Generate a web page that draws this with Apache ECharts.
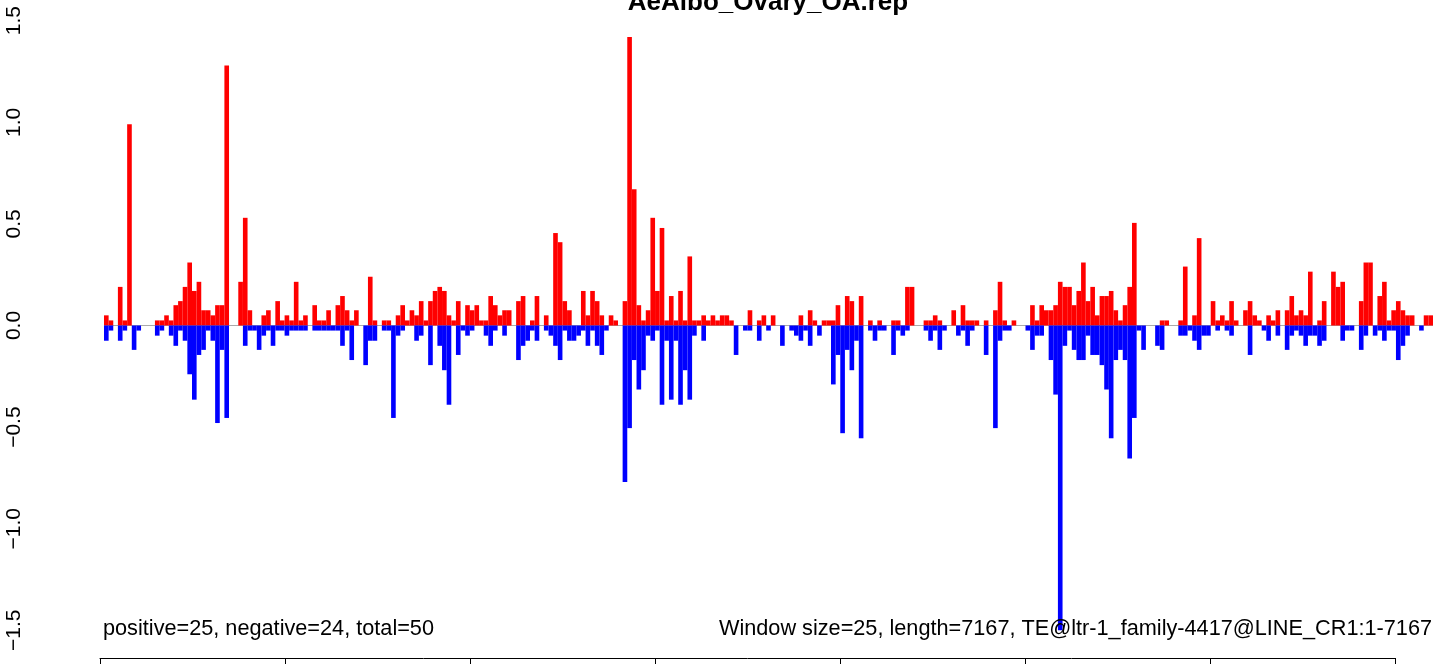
<!DOCTYPE html>
<html>
<head>
<meta charset="utf-8">
<script src="https://cdn.jsdelivr.net/npm/echarts@6/dist/echarts.min.js"></script>
<style>
html, body { margin: 0; padding: 0; background: #fff; }
#chart { width: 1441px; height: 664px; }
</style>
</head>
<body>
<div id="chart"></div>
<script>
// repeat profile, one bar pair per 25 bp window
const windowSize = 25;
const seqLength = 7167;
const chartTitle = 'AeAlbo_Ovary_OA.rep';
const statsText = 'positive=25, negative=24, total=50';
const infoText = 'Window size=25, length=7167, TE@ltr-1_family-4417@LINE_CR1:1-7167';

const positiveValues = [
  0.05, 0.025, 0, 0.19, 0.025, 0.99, 0, 0, 0, 0,
  0, 0.025, 0.025, 0.05, 0.025, 0.1, 0.12, 0.19, 0.31, 0.17,
  0.215, 0.075, 0.075, 0.05, 0.1, 0.1, 1.28, 0, 0, 0.215,
  0.53, 0.075, 0, 0, 0.05, 0.075, 0, 0.12, 0.025, 0.05,
  0.025, 0.215, 0.025, 0.05, 0, 0.1, 0.025, 0.025, 0.075, 0,
  0.1, 0.145, 0.075, 0.025, 0.075, 0, 0, 0.24, 0.025, 0,
  0.025, 0.025, 0, 0.05, 0.1, 0.025, 0.075, 0.05, 0.12, 0.025,
  0.12, 0.17, 0.19, 0.17, 0.05, 0.025, 0.12, 0, 0.1, 0.075,
  0.1, 0.025, 0.025, 0.145, 0.1, 0.05, 0.075, 0.075, 0, 0.12,
  0.145, 0, 0.025, 0.145, 0, 0.05, 0, 0.455, 0.41, 0.12,
  0.075, 0, 0, 0.17, 0.05, 0.17, 0.12, 0.05, 0, 0.05,
  0.025, 0, 0.12, 1.42, 0.67, 0.1, 0.025, 0.075, 0.53, 0.17,
  0.48, 0.025, 0.145, 0.025, 0.17, 0.025, 0.34, 0.025, 0.025, 0.05,
  0.025, 0.05, 0.025, 0.05, 0.05, 0.025, 0, 0, 0, 0.075,
  0, 0.025, 0.05, 0, 0.05, 0, 0, 0, 0, 0,
  0.05, 0, 0.075, 0.025, 0, 0.025, 0.025, 0.025, 0.1, 0,
  0.145, 0.12, 0, 0.145, 0, 0.025, 0, 0.025, 0, 0,
  0.025, 0.025, 0, 0.19, 0.19, 0, 0, 0.025, 0.025, 0.05,
  0.025, 0, 0, 0.075, 0, 0.1, 0.025, 0.025, 0.025, 0,
  0.025, 0, 0.075, 0.215, 0.025, 0, 0.025, 0, 0, 0,
  0.1, 0.025, 0.1, 0.075, 0.075, 0.1, 0.215, 0.19, 0.19, 0.1,
  0.17, 0.31, 0.12, 0.19, 0.05, 0.145, 0.145, 0.17, 0.075, 0.025,
  0.1, 0.19, 0.505, 0, 0, 0, 0, 0, 0.025, 0.025,
  0, 0, 0.025, 0.29, 0, 0.05, 0.43, 0, 0, 0.12,
  0.025, 0.05, 0.025, 0.12, 0.025, 0, 0.075, 0.12, 0.05, 0.025,
  0, 0.05, 0.025, 0.075, 0, 0.075, 0.145, 0.05, 0.075, 0.05,
  0.265, 0, 0.025, 0.12, 0, 0.265, 0.19, 0.215, 0, 0,
  0, 0.12, 0.31, 0.31, 0, 0.145, 0.215, 0.025, 0.075, 0.12,
  0.075, 0.05, 0.05, 0, 0, 0.05, 0.05
];

const negativeValues = [
  -0.075, -0.025, 0, -0.075, -0.025, 0, -0.12, -0.025, 0, 0,
  0, -0.05, -0.025, 0, -0.05, -0.1, -0.025, -0.075, -0.24, -0.365,
  -0.145, -0.12, -0.025, -0.075, -0.48, -0.12, -0.455, 0, 0, 0,
  -0.1, -0.025, -0.025, -0.12, -0.05, -0.025, -0.1, -0.025, -0.025, -0.05,
  -0.025, -0.025, -0.025, -0.025, 0, -0.025, -0.025, -0.025, -0.025, -0.025,
  -0.025, -0.1, -0.025, -0.17, 0, 0, -0.195, -0.075, -0.075, 0,
  -0.025, -0.025, -0.455, -0.05, -0.025, 0, 0, -0.075, -0.05, 0,
  -0.195, 0, -0.1, -0.22, -0.39, 0, -0.145, -0.025, -0.05, -0.025,
  0, 0, -0.05, -0.1, -0.025, 0, -0.05, 0, 0, -0.17,
  -0.1, -0.075, -0.025, -0.075, 0, -0.025, -0.05, -0.1, -0.17, -0.025,
  -0.075, -0.075, -0.05, -0.025, -0.1, -0.025, -0.1, -0.145, -0.025, 0,
  0, 0, -0.77, -0.505, -0.17, -0.315, -0.22, -0.05, -0.075, -0.025,
  -0.39, -0.075, -0.365, -0.075, -0.39, -0.22, -0.365, -0.05, 0, -0.075,
  0, 0, 0, 0, 0, 0, -0.145, 0, -0.025, -0.025,
  0, -0.075, 0, -0.025, 0, 0, -0.1, 0, -0.025, -0.05,
  -0.075, -0.025, -0.1, 0, -0.05, 0, 0, -0.29, -0.145, -0.53,
  -0.12, -0.22, -0.075, -0.555, 0, -0.025, -0.075, -0.025, -0.025, 0,
  -0.145, -0.025, -0.05, -0.025, 0, 0, 0, -0.025, -0.075, -0.025,
  -0.12, -0.025, 0, 0, -0.05, -0.025, -0.1, -0.025, 0, 0,
  -0.145, 0, -0.505, -0.075, -0.025, -0.025, 0, 0, 0, -0.025,
  -0.12, -0.05, -0.05, 0, -0.17, -0.34, -1.51, -0.1, -0.025, -0.12,
  -0.17, -0.17, -0.05, -0.145, -0.145, -0.195, -0.315, -0.555, -0.17, -0.12,
  -0.17, -0.655, -0.455, -0.025, -0.12, 0, 0, -0.1, -0.12, 0,
  0, 0, -0.05, -0.05, -0.025, -0.075, -0.12, -0.05, -0.05, 0,
  -0.025, 0, -0.025, -0.05, 0, 0, 0, -0.145, 0, 0,
  -0.025, -0.075, 0, -0.05, 0, -0.12, -0.05, -0.025, -0.05, -0.1,
  -0.05, -0.05, -0.1, -0.075, 0, 0, 0, -0.075, -0.025, -0.025,
  0, -0.12, -0.05, 0, -0.05, -0.025, -0.075, -0.025, -0.025, -0.17,
  -0.1, -0.05, 0, 0, -0.025, 0, 0
];

const xTicks = [0, 1000, 2000, 3000, 4000, 5000, 6000, 7000];
const yTicks = [-1.5, -1.0, -0.5, 0.0, 0.5, 1.0, 1.5];

// window start positions along the element
const windowStarts = positiveValues.map((v, i) => i * windowSize + 1);

let chart = echarts.init(document.getElementById('chart'));
let fontFamily = '"Liberation Sans", Arial, Helvetica, sans-serif';

let option = {
    animation: false,
    backgroundColor: '#ffffff',
    title: [
        {
            text: chartTitle,
            left: 768,
            top: -10,
            padding: 0,
            textAlign: 'center',
            textStyle: { fontFamily: fontFamily, fontSize: 26, fontWeight: 'bold', color: '#000' }
        },
        {
            text: statsText,
            left: 103,
            top: 618,
            padding: 0,
            textStyle: { fontFamily: fontFamily, fontSize: 21.7, fontWeight: 'normal', color: '#000' }
        },
        {
            text: infoText,
            right: 9,
            top: 618,
            padding: 0,
            textStyle: { fontFamily: fontFamily, fontSize: 21.7, fontWeight: 'normal', color: '#000' }
        }
    ],
    grid: [
        { left: 104, width: 1329, top: 20.7, height: 609.6 },
        { left: 100, width: 1295, top: 600, height: 58 }
    ],
    xAxis: [
        {
            type: 'category',
            gridIndex: 0,
            data: windowStarts,
            boundaryGap: true,
            show: false
        },
        {
            type: 'value',
            gridIndex: 1,
            min: xTicks[0],
            max: xTicks[xTicks.length - 1],
            interval: 1000,
            axisLine: { show: true, lineStyle: { color: '#000', width: 1 } },
            axisTick: { show: true, length: 12, lineStyle: { color: '#000' } },
            axisLabel: { show: false },
            splitLine: { show: false }
        }
    ],
    yAxis: [
        {
            type: 'value',
            gridIndex: 0,
            min: yTicks[0],
            max: yTicks[yTicks.length - 1],
            interval: 0.5,
            offset: 52,
            axisLine: { show: false },
            axisTick: { show: false },
            axisLabel: {
                rotate: 90,
                margin: 27,
                color: '#000',
                fontFamily: fontFamily,
                fontSize: 21,
                formatter: function (v) {
                    return v.toFixed(1).replace('-', '\u2212');
                }
            },
            splitLine: {
                show: true,
                lineStyle: {
                    color: yTicks.map(t => (t === 0 ? '#aaaaaa' : 'rgba(0,0,0,0)')),
                    width: 1
                }
            }
        },
        {
            type: 'value',
            gridIndex: 1,
            show: false
        }
    ],
    series: [
        {
            name: 'positive',
            type: 'bar',
            stack: 'strand',
            xAxisIndex: 0,
            yAxisIndex: 0,
            barCategoryGap: '0%',
            data: positiveValues,
            itemStyle: { color: '#ff0000' }
        },
        {
            name: 'negative',
            type: 'bar',
            stack: 'strand',
            xAxisIndex: 0,
            yAxisIndex: 0,
            barCategoryGap: '0%',
            data: negativeValues,
            itemStyle: { color: '#0000ff' }
        }
    ]
};
chart.setOption(option);
</script>
</body>
</html>
